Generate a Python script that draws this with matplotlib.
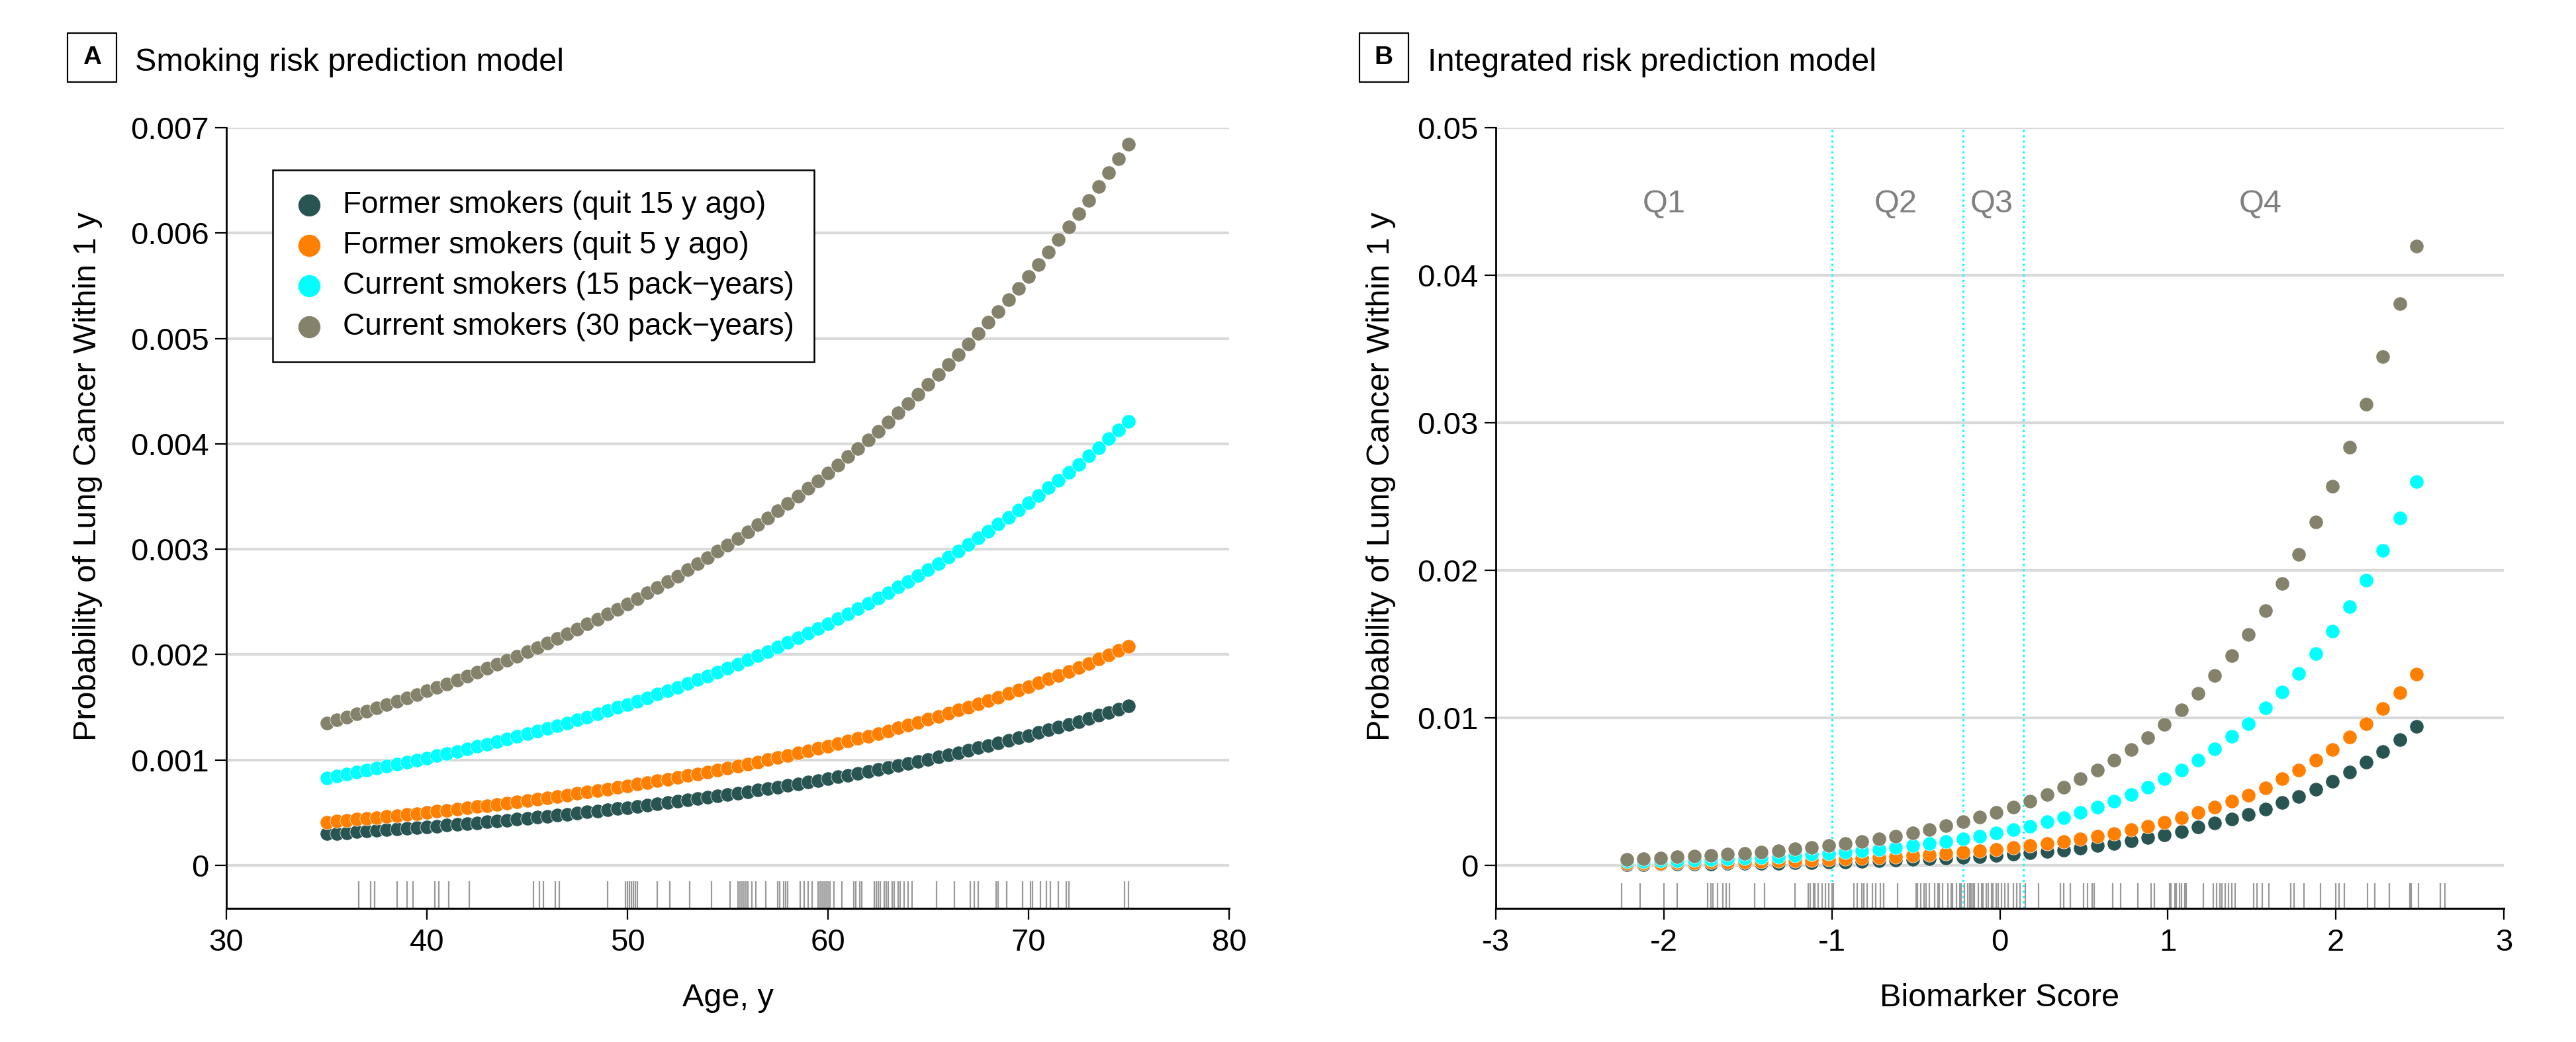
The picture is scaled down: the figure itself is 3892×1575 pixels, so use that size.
import numpy as np
import matplotlib
matplotlib.use("Agg")
import matplotlib.pyplot as plt
from matplotlib.patches import Rectangle

plt.rcParams['font.family'] = ['Liberation Sans', 'DejaVu Sans']
plt.rcParams['axes.unicode_minus'] = False

# ---- Panel A: smoking risk prediction model (probabilities x 1e-3) ----
ages = [35.0, 35.5, 36.0, 36.5, 37.0, 37.5, 38.0, 38.5, 39.0, 39.5,
        40.0, 40.5, 41.0, 41.5, 42.0, 42.5, 43.0, 43.5, 44.0, 44.5,
        45.0, 45.5, 46.0, 46.5, 47.0, 47.5, 48.0, 48.5, 49.0, 49.5,
        50.0, 50.5, 51.0, 51.5, 52.0, 52.5, 53.0, 53.5, 54.0, 54.5,
        55.0, 55.5, 56.0, 56.5, 57.0, 57.5, 58.0, 58.5, 59.0, 59.5,
        60.0, 60.5, 61.0, 61.5, 62.0, 62.5, 63.0, 63.5, 64.0, 64.5,
        65.0, 65.5, 66.0, 66.5, 67.0, 67.5, 68.0, 68.5, 69.0, 69.5,
        70.0, 70.5, 71.0, 71.5, 72.0, 72.5, 73.0, 73.5, 74.0, 74.5, 75.0]

former15_a = [0.298, 0.304, 0.310, 0.317, 0.323, 0.330, 0.337, 0.343, 0.351, 0.358,
              0.365, 0.373, 0.380, 0.388, 0.396, 0.404, 0.412, 0.421, 0.429, 0.438,
              0.447, 0.456, 0.466, 0.475, 0.485, 0.495, 0.505, 0.515, 0.526, 0.537,
              0.548, 0.559, 0.570, 0.582, 0.594, 0.606, 0.619, 0.631, 0.644, 0.657,
              0.671, 0.685, 0.699, 0.713, 0.728, 0.743, 0.758, 0.773, 0.789, 0.805,
              0.822, 0.839, 0.856, 0.874, 0.891, 0.910, 0.928, 0.947, 0.967, 0.987,
              1.007, 1.028, 1.049, 1.070, 1.092, 1.114, 1.137, 1.161, 1.184, 1.209,
              1.233, 1.259, 1.284, 1.311, 1.338, 1.365, 1.393, 1.422, 1.451, 1.481, 1.511]

former5_a = [0.410, 0.418, 0.427, 0.436, 0.445, 0.454, 0.463, 0.473, 0.482, 0.492,
             0.502, 0.513, 0.523, 0.534, 0.545, 0.556, 0.567, 0.579, 0.591, 0.603,
             0.615, 0.628, 0.641, 0.654, 0.667, 0.681, 0.695, 0.709, 0.724, 0.738,
             0.754, 0.769, 0.785, 0.801, 0.817, 0.834, 0.851, 0.869, 0.886, 0.905,
             0.923, 0.942, 0.961, 0.981, 1.001, 1.022, 1.043, 1.064, 1.086, 1.108,
             1.131, 1.154, 1.178, 1.202, 1.226, 1.252, 1.277, 1.303, 1.330, 1.357,
             1.385, 1.414, 1.443, 1.472, 1.502, 1.533, 1.565, 1.597, 1.629, 1.663,
             1.697, 1.732, 1.767, 1.803, 1.840, 1.878, 1.917, 1.956, 1.996, 2.037, 2.079]

current15_a = [0.831, 0.848, 0.865, 0.883, 0.901, 0.920, 0.939, 0.958, 0.977, 0.997,
               1.018, 1.039, 1.060, 1.082, 1.104, 1.127, 1.150, 1.173, 1.197, 1.222,
               1.247, 1.273, 1.299, 1.325, 1.352, 1.380, 1.408, 1.437, 1.467, 1.497,
               1.527, 1.559, 1.591, 1.623, 1.657, 1.691, 1.725, 1.761, 1.797, 1.833,
               1.871, 1.909, 1.949, 1.989, 2.029, 2.071, 2.113, 2.157, 2.201, 2.246,
               2.292, 2.339, 2.387, 2.436, 2.486, 2.537, 2.589, 2.642, 2.696, 2.751,
               2.808, 2.865, 2.924, 2.984, 3.045, 3.108, 3.171, 3.236, 3.303, 3.370,
               3.439, 3.510, 3.582, 3.655, 3.730, 3.807, 3.885, 3.964, 4.046, 4.129, 4.213]

current30_a = [1.350, 1.378, 1.406, 1.435, 1.464, 1.494, 1.525, 1.556, 1.588, 1.620,
               1.654, 1.688, 1.722, 1.758, 1.794, 1.830, 1.868, 1.906, 1.945, 1.985,
               2.026, 2.067, 2.110, 2.153, 2.197, 2.242, 2.288, 2.335, 2.383, 2.432,
               2.481, 2.532, 2.584, 2.637, 2.691, 2.746, 2.803, 2.860, 2.919, 2.979,
               3.040, 3.102, 3.166, 3.230, 3.297, 3.364, 3.433, 3.504, 3.575, 3.649,
               3.724, 3.800, 3.878, 3.957, 4.038, 4.121, 4.206, 4.292, 4.380, 4.470,
               4.561, 4.655, 4.750, 4.848, 4.947, 5.048, 5.152, 5.257, 5.365, 5.475,
               5.588, 5.702, 5.819, 5.938, 6.060, 6.184, 6.311, 6.440, 6.572, 6.707, 6.845]

# observed ages (rug)
age_rug = [36.6, 37.2, 37.4, 38.5, 39.0, 39.3, 40.4, 40.6, 41.1, 42.1,
           45.3, 45.6, 45.8, 46.4, 46.6, 49.0, 49.9, 50.0, 50.1, 50.2,
           50.3, 50.4, 50.5, 51.5, 52.1, 53.1, 54.2, 55.1, 55.5, 55.6,
           55.7, 55.8, 55.9, 56.0, 56.2, 56.4, 56.9, 57.5, 57.6, 57.8,
           57.9, 58.0, 58.6, 58.8, 59.0, 59.2, 59.5, 59.6, 59.7, 59.8,
           59.9, 60.0, 60.1, 60.3, 60.7, 61.3, 61.4, 61.6, 61.7, 62.3,
           62.4, 62.5, 62.6, 62.8, 62.9, 63.0, 63.2, 63.3, 63.5, 63.6,
           63.8, 64.0, 64.2, 65.4, 66.3, 67.1, 67.3, 67.5, 68.4, 68.5,
           68.9, 69.7, 70.1, 70.2, 70.6, 70.9, 71.1, 71.5, 71.9, 72.0, 74.8, 75.0]

# ---- Panel B: integrated risk prediction model ----
scores = [-2.22, -2.12, -2.02, -1.92, -1.82, -1.72, -1.62, -1.52, -1.42, -1.32,
          -1.22, -1.12, -1.02, -0.92, -0.82, -0.72, -0.62, -0.52, -0.42, -0.32,
          -0.22, -0.12, -0.02, 0.08, 0.18, 0.28, 0.38, 0.48, 0.58, 0.68,
          0.78, 0.88, 0.98, 1.08, 1.18, 1.28, 1.38, 1.48, 1.58, 1.68,
          1.78, 1.88, 1.98, 2.08, 2.18, 2.28, 2.38, 2.48]

former15_b = [0.00005, 0.00006, 0.00007, 0.00008, 0.00009, 0.0001, 0.00011, 0.00012,
              0.00013, 0.00015, 0.00017, 0.00019, 0.00021, 0.00024, 0.00027, 0.0003,
              0.00034, 0.00038, 0.00043, 0.00048, 0.00054, 0.0006, 0.00067, 0.00075,
              0.00084, 0.00094, 0.00105, 0.00118, 0.00132, 0.00148, 0.00166, 0.00186,
              0.00208, 0.0023, 0.0026, 0.00285, 0.00314, 0.00345, 0.00383, 0.00425,
              0.00468, 0.00517, 0.00568, 0.00632, 0.00697, 0.00772, 0.00852, 0.00941]

former5_b = [0.00012, 0.00013, 0.00015, 0.00016, 0.00018, 0.0002, 0.00022, 0.00024,
             0.00027, 0.0003, 0.00033, 0.00036, 0.0004, 0.00044, 0.00049, 0.00054,
             0.0006, 0.00066, 0.00073, 0.0008, 0.00089, 0.00098, 0.00108, 0.0012,
             0.00132, 0.00146, 0.00161, 0.00178, 0.00197, 0.00217, 0.0024, 0.00265,
             0.00293, 0.00323, 0.00357, 0.00394, 0.00434, 0.00477, 0.00526, 0.00586,
             0.00646, 0.00712, 0.00784, 0.00869, 0.00961, 0.01061, 0.0117, 0.01296]

current15_b = [0.00025, 0.00027, 0.0003, 0.00033, 0.00037, 0.00041, 0.00045, 0.0005,
               0.00055, 0.0006, 0.00067, 0.00074, 0.00081, 0.0009, 0.00099, 0.00109,
               0.00121, 0.00133, 0.00147, 0.00162, 0.00179, 0.00198, 0.00218, 0.00241,
               0.00266, 0.00294, 0.00324, 0.00358, 0.00395, 0.00436, 0.00481, 0.00531,
               0.00586, 0.00647, 0.00714, 0.00789, 0.00872, 0.00961, 0.01067, 0.01176,
               0.01299, 0.01433, 0.01585, 0.01751, 0.01934, 0.02135, 0.02356, 0.02599]

current30_b = [0.00041, 0.00046, 0.0005, 0.00056, 0.00061, 0.00068, 0.00075, 0.00082,
               0.00091, 0.001, 0.0011, 0.00122, 0.00134, 0.00148, 0.00163, 0.0018,
               0.00199, 0.00219, 0.00242, 0.00267, 0.00294, 0.00325, 0.00358, 0.00395,
               0.00436, 0.0048, 0.0053, 0.00585, 0.00645, 0.00712, 0.00785, 0.00866,
               0.00955, 0.01053, 0.01164, 0.01285, 0.01419, 0.01565, 0.01728, 0.01909,
               0.02106, 0.02327, 0.02568, 0.02834, 0.03126, 0.03449, 0.03805, 0.04197]

score_rug = [-2.25, -2.14, -2.00, -1.92, -1.74, -1.72, -1.71, -1.68, -1.65, -1.63,
             -1.61, -1.46, -1.40, -1.22, -1.14, -1.13, -1.11, -1.10, -1.08, -1.06,
             -1.04, -1.02, -1.00, -0.99, -0.87, -0.85, -0.82, -0.81, -0.79, -0.76,
             -0.74, -0.71, -0.69, -0.61, -0.50, -0.49, -0.47, -0.45, -0.44, -0.42,
             -0.39, -0.37, -0.36, -0.34, -0.31, -0.29, -0.28, -0.26, -0.24, -0.23,
             -0.21, -0.19, -0.18, -0.17, -0.16, -0.15, -0.13, -0.11, -0.10, -0.08,
             -0.07, -0.05, -0.04, -0.02, -0.01, 0.01, 0.03, 0.05, 0.08, 0.10,
             0.12, 0.15, 0.23, 0.36, 0.38, 0.42, 0.50, 0.52, 0.55, 0.56,
             0.67, 0.72, 0.82, 0.90, 0.92, 1.01, 1.02, 1.04, 1.05, 1.07,
             1.08, 1.10, 1.11, 1.21, 1.27, 1.29, 1.31, 1.32, 1.34, 1.36,
             1.38, 1.40, 1.51, 1.53, 1.56, 1.60, 1.73, 1.75, 1.81, 1.91,
             2.00, 2.02, 2.05, 2.19, 2.23, 2.32, 2.44, 2.45, 2.49, 2.62, 2.65]

quartile_cuts = [-1.0, -0.217, 0.139]
quartile_names = ['Q1', 'Q2', 'Q3', 'Q4']
quartile_label_x = [-2.0, -0.62, -0.05, 1.55]

labels = ['Former smokers (quit 15 y ago)', 'Former smokers (quit 5 y ago)',
          'Current smokers (15 pack\u2212years)', 'Current smokers (30 pack\u2212years)']
colors = ['#285452', '#FF7F00', '#00FFFF', '#84826B']

TICK_FS = 34
LABEL_FS = 35
DOT = 235


def style_axes(ax, xlim, xticks, ylim, yticks, yticklabels):
    ax.set_xlim(*xlim)
    ax.set_ylim(*ylim)
    ax.set_xticks(xticks)
    ax.set_yticks(yticks)
    ax.set_yticklabels(yticklabels)
    ax.spines['top'].set_visible(False)
    ax.spines['right'].set_visible(False)
    ax.spines['left'].set_linewidth(2)
    ax.spines['bottom'].set_linewidth(2.2)
    ax.tick_params(axis='both', length=12, width=1.6, labelsize=TICK_FS)
    ax.tick_params(axis='x', pad=10)
    ax.tick_params(axis='y', pad=7)
    ax.yaxis.grid(True, color='#D9D9D9', lw=3)
    ax.set_axisbelow(True)


fig = plt.figure(figsize=(38.92, 15.75), dpi=100)
ax_a = fig.add_axes([0.0879, 0.1283, 0.3892, 0.7492])
ax_b = fig.add_axes([0.5807, 0.1283, 0.3913, 0.7492])

# Panel A
series_a = [former15_a, former5_a, current15_a, current30_a]
for vals, col, lab in zip(series_a, colors, labels):
    ax_a.scatter(ages, np.array(vals) * 1e-3, s=DOT, color=col, edgecolors='white',
                 linewidths=0.5, zorder=3, label=lab)
ax_a.vlines(age_rug, 0, 0.035, transform=ax_a.get_xaxis_transform(),
            colors='#999999', lw=1.6, zorder=2)
style_axes(ax_a, (30, 80), [30, 40, 50, 60, 70, 80], (-0.000408, 0.007),
           [0, 0.001, 0.002, 0.003, 0.004, 0.005, 0.006, 0.007],
           ['0', '0.001', '0.002', '0.003', '0.004', '0.005', '0.006', '0.007'])
ax_a.set_xlabel('Age, y', fontsize=LABEL_FS)
ax_a.xaxis.set_label_coords(0.5, -0.115)
ax_a.xaxis.label.set_va('center')
ax_a.set_ylabel('Probability of Lung Cancer Within 1 y', fontsize=LABEL_FS)
ax_a.yaxis.set_label_coords(-0.1386, 0.553)
ax_a.yaxis.label.set_va('center')

leg = ax_a.legend(loc='upper left', bbox_to_anchor=(0.046, 0.9458), borderaxespad=0,
                  fontsize=33, frameon=True, fancybox=False, edgecolor='black',
                  framealpha=1, borderpad=0.67, handlelength=1.06, handletextpad=0.58,
                  labelspacing=0.38, scatterpoints=1, markerscale=1.6)
leg.get_frame().set_linewidth(1.8)

# Panel B
for c in quartile_cuts:
    ax_b.axvline(c, color='#00FFFF', ls=':', lw=2.2, zorder=1)
series_b = [former15_b, former5_b, current15_b, current30_b]
for vals, col in zip(series_b, colors):
    ax_b.scatter(scores, vals, s=DOT, color=col, edgecolors='white',
                 linewidths=0.5, zorder=3)
ax_b.vlines(score_rug, 0, 0.032, transform=ax_b.get_xaxis_transform(),
            colors='#999999', lw=1.6, zorder=2)
for name, qx in zip(quartile_names, quartile_label_x):
    ax_b.text(qx, 0.0448, name, ha='center', va='center', fontsize=35,
              color='#808080')
style_axes(ax_b, (-3, 3), [-3, -2, -1, 0, 1, 2, 3], (-0.002915, 0.05),
           [0, 0.01, 0.02, 0.03, 0.04, 0.05],
           ['0', '0.01', '0.02', '0.03', '0.04', '0.05'])
ax_b.set_xlabel('Biomarker Score', fontsize=LABEL_FS)
ax_b.xaxis.set_label_coords(0.5, -0.115)
ax_b.xaxis.label.set_va('center')
ax_b.set_ylabel('Probability of Lung Cancer Within 1 y', fontsize=LABEL_FS)
ax_b.yaxis.set_label_coords(-0.114, 0.553)
ax_b.yaxis.label.set_va('center')

# Panel headings with boxed letters
for letter, box_x, title, title_x in [('A', 0.0262, 'Smoking risk prediction model', 0.0524),
                                      ('B', 0.5277, 'Integrated risk prediction model', 0.5542)]:
    fig.patches.append(Rectangle((box_x, 0.9213), 0.019, 0.047, transform=fig.transFigure,
                                 fill=False, ec='black', lw=1.6))
    fig.text(box_x + 0.0095, 0.9448, letter, ha='center', va='center', fontsize=28,
             fontweight='bold')
    fig.text(title_x, 0.932, title, ha='left', va='baseline', fontsize=35)

fig.savefig('out.png', dpi=100)
